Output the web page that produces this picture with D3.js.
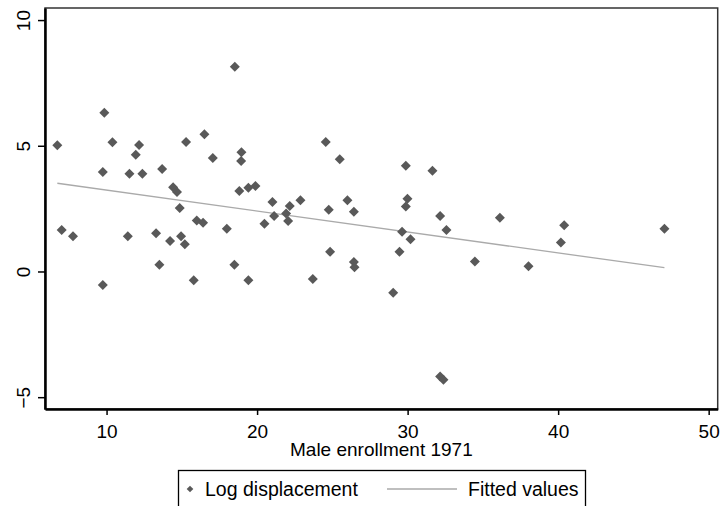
<!DOCTYPE html>
<html>
<head>
<meta charset="utf-8">
<script src="https://cdn.jsdelivr.net/npm/d3@7"></script>
<style>
body { margin: 0; background: #fff; }
text { font-family: "Liberation Sans", Arial, sans-serif; }
</style>
</head>
<body>
<div id="viz"></div>
<script>
var width = 721
var height = 506

// Male enrollment 1971 (x) and log displacement (y)
var enrollment = [6.73, 7.02, 7.77, 9.85, 9.75, 9.75, 10.39, 11.52, 11.41, 11.94,
	12.16, 12.38, 13.69, 13.29, 13.51, 14.42, 14.68, 14.86, 14.22, 14.95,
	15.20, 15.28, 15.79, 15.99, 16.41, 16.50, 17.06, 17.99, 18.52, 18.49,
	18.82, 18.96, 18.94, 19.42, 19.42, 19.89, 20.49, 21.02, 21.13, 21.93,
	22.06, 22.17, 22.88, 23.70, 24.56, 24.76, 24.85, 25.49, 26.00, 26.43,
	26.43, 26.47, 29.04, 29.46, 29.63, 29.88, 29.99, 29.88, 30.19, 31.65,
	32.16, 32.58, 32.16, 32.38, 34.47, 36.13, 38.03, 40.18, 40.40, 47.06];
var logDisp = [5.02, 1.65, 1.40, 6.31, 3.96, -0.54, 5.14, 3.89, 1.40, 4.64,
	5.03, 3.89, 4.08, 1.52, 0.27, 3.35, 3.16, 2.52, 1.21, 1.40,
	1.08, 5.15, -0.35, 2.03, 1.94, 5.46, 4.51, 1.70, 8.14, 0.27,
	3.20, 4.74, 4.39, 3.33, -0.35, 3.40, 1.90, 2.76, 2.21, 2.31,
	2.01, 2.60, 2.83, -0.30, 5.15, 2.46, 0.78, 4.46, 2.83, 2.38,
	0.38, 0.17, -0.85, 0.78, 1.58, 4.21, 2.89, 2.58, 1.28, 4.01,
	2.21, 1.65, -4.18, -4.31, 0.40, 2.14, 0.21, 1.15, 1.84, 1.70];

// fitted line end points
var fitX = [6.73, 47.06];
var fitY = [3.51, 0.15];

var xTicks = [10, 20, 30, 40, 50];
var yTicks = [-5, 0, 5, 10];

var points = enrollment.map(function(d, i){ return {x: d, y: logDisp[i]}; });
var fitted = fitX.map(function(d, i){ return {x: d, y: fitY[i]}; });

var canvas = d3.select("#viz")
	.append("svg")
	.attr("width", width)
	.attr("height", height);

var plotLeft = 45, plotRight = 717.7, plotTop = 8, plotBottom = 409;

var xScale = d3.scaleLinear()
	.domain([5.91, 50.6])
	.range([plotLeft, plotRight]);

var yScale = d3.scaleLinear()
	.domain([-5.47, 10.48])
	.range([plotBottom, plotTop]);

// plot region frame
canvas.append("rect")
	.attr("x", plotLeft)
	.attr("y", plotTop)
	.attr("width", plotRight - plotLeft)
	.attr("height", plotBottom - plotTop)
	.attr("fill", "none")
	.attr("stroke", "#333")
	.attr("stroke-width", 1.5);

var xAxis = d3.axisBottom(xScale)
	.tickValues(xTicks)
	.tickSizeInner(6)
	.tickSizeOuter(0)
	.tickPadding(10);

var yAxis = d3.axisLeft(yScale)
	.tickValues(yTicks)
	.tickSizeInner(7)
	.tickSizeOuter(0);

var gx = canvas.append("g")
	.attr("transform", "translate(0," + plotBottom + ")")
	.call(xAxis);
gx.select(".domain").attr("stroke", "#000").attr("stroke-width", 2.5);
gx.selectAll(".tick line").attr("stroke", "#000").attr("stroke-width", 1.5);
gx.selectAll(".tick text")
	.attr("font-size", 19)
	.attr("font-family", "Liberation Sans, Arial, sans-serif")
	.attr("fill", "#000");

var gy = canvas.append("g")
	.attr("transform", "translate(" + plotLeft + ",0)")
	.call(yAxis);
gy.select(".domain").attr("stroke", "#000").attr("stroke-width", 2.5);
gy.selectAll(".tick line").attr("stroke", "#000").attr("stroke-width", 1.5);
gy.selectAll(".tick text")
	.attr("font-size", 19)
	.attr("font-family", "Liberation Sans, Arial, sans-serif")
	.attr("fill", "#000")
	.attr("text-anchor", "middle")
	.attr("x", 0)
	.attr("dy", 0)
	.attr("transform", "translate(-15,0) rotate(-90)");

canvas.append("text")
	.text("Male enrollment 1971")
	.attr("x", (plotLeft + plotRight) / 2)
	.attr("y", 456)
	.attr("text-anchor", "middle")
	.attr("font-size", 19);

var valueLine = d3.line()
	.x(function(d){ return xScale(d.x); })
	.y(function(d){ return yScale(d.y); });

canvas.append("path")
	.datum(fitted)
	.attr("d", valueLine)
	.attr("fill", "none")
	.attr("stroke", "#aaa")
	.attr("stroke-width", 1.3);

var diamond = d3.symbol().type(d3.symbolSquare).size(50);

canvas.selectAll(".pt")
	.data(points)
	.enter()
	.append("path")
	.attr("class", "pt")
	.attr("d", diamond)
	.attr("fill", "#595959")
	.attr("transform", function(d){
		return "translate(" + xScale(d.x) + "," + yScale(d.y) + ") rotate(45)";
	});

// legend
var legend = canvas.append("g");
legend.append("rect")
	.attr("x", 178.5)
	.attr("y", 470.5)
	.attr("width", 407)
	.attr("height", 40)
	.attr("fill", "none")
	.attr("stroke", "#000")
	.attr("stroke-width", 1.3);
legend.append("path")
	.attr("d", d3.symbol().type(d3.symbolSquare).size(22))
	.attr("fill", "#595959")
	.attr("transform", "translate(190,489) rotate(45)");
legend.append("text")
	.text("Log displacement")
	.attr("x", 205)
	.attr("y", 496)
	.attr("font-size", 19.5);
legend.append("line")
	.attr("x1", 387).attr("x2", 457)
	.attr("y1", 489).attr("y2", 489)
	.attr("stroke", "#aaa")
	.attr("stroke-width", 1.3);
legend.append("text")
	.text("Fitted values")
	.attr("x", 468)
	.attr("y", 496)
	.attr("font-size", 19.5);
</script>
</body>
</html>
